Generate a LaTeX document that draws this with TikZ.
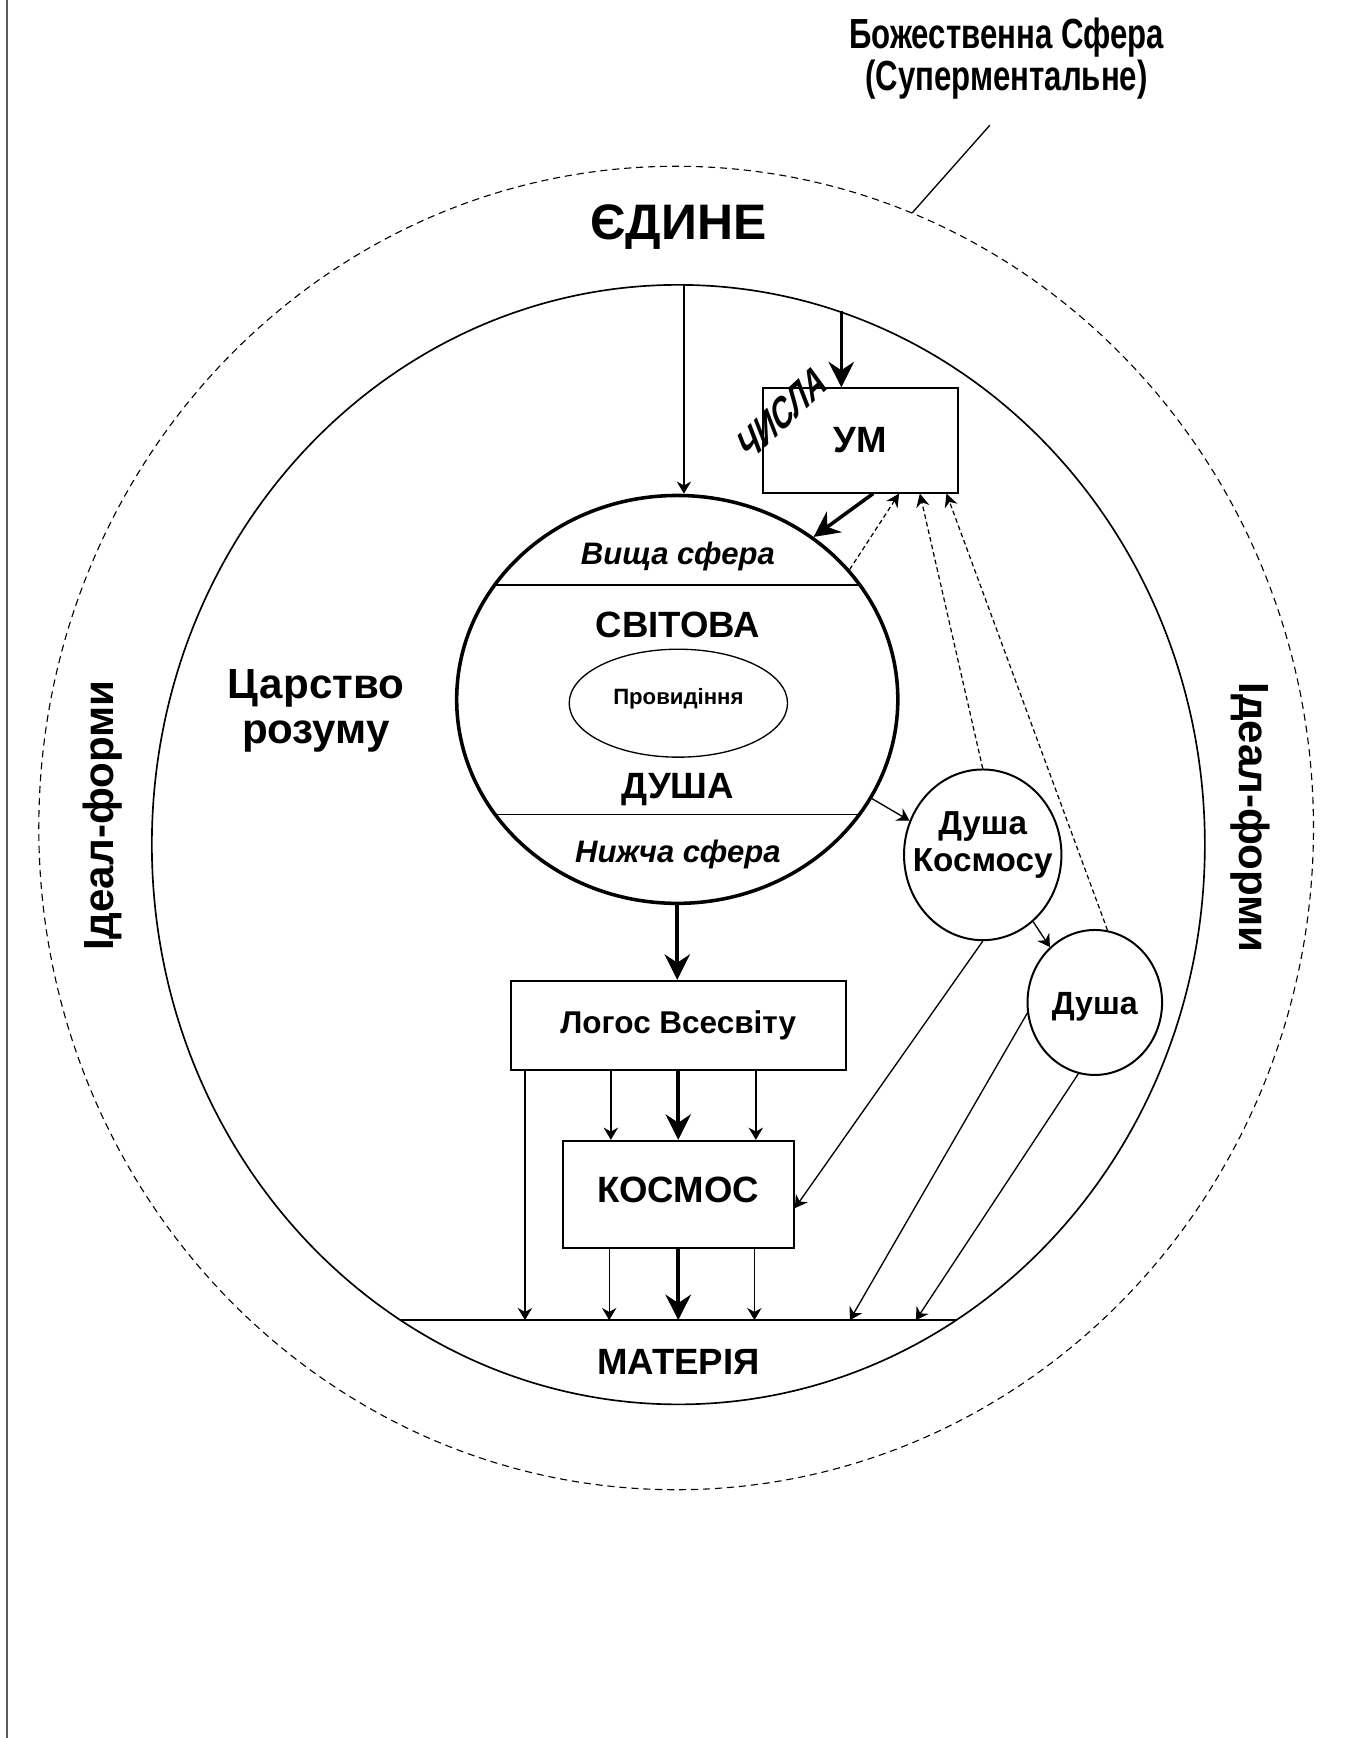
\documentclass[tikz,border=0pt]{standalone}
\usepackage{fontspec}
\setmainfont{Liberation Sans}
\newfontfamily\narrowfont[FakeStretch=0.74]{Liberation Sans}
\newfontfamily\chfont[FakeStretch=0.78]{Liberation Sans}
\usetikzlibrary{arrows.meta,shapes.geometric,calc}
\begin{document}
\begin{tikzpicture}[x=0.5pt,y=-0.5pt,
  fa/.style={font=\fontsize{#1pt}{#1pt}\selectfont\bfseries},
  fi/.style={font=\fontsize{#1pt}{#1pt}\selectfont\bfseries\itshape},
  fn/.style={font=\fontsize{#1pt}{#1pt}\selectfont\narrowfont\bfseries},
  fc/.style={font=\fontsize{#1pt}{#1pt}\selectfont\chfont\bfseries},
  lbl/.style={inner sep=0pt, anchor=base},
  thinarr/.style={line width=0.6pt, -{Stealth[length=5.5pt,width=6.5pt,inset=1.8pt]}},
  thickarr/.style={line width=1.6pt, -{Stealth[length=11.5pt,width=11.5pt,inset=3.8pt]}},
  dasharr/.style={line width=0.55pt, dash pattern=on 2.1pt off 1.4pt, -{Stealth[length=6pt,width=6pt,inset=2pt]}},
  oval/.style={draw, ellipse, inner sep=0pt},
  boxnode/.style={draw, rectangle, line width=0.9pt, inner sep=0pt},
]
\useasboundingbox (0,0) rectangle (1215,1568);
\fill[white] (0,0) rectangle (1215,1568);
\draw[line width=0.9pt, black!65] (6.3,0) -- (6.3,1568);

% spheres
\node[oval, line width=0.5pt, dash pattern=on 3.2pt off 2.2pt, minimum width=575pt, minimum height=597pt] (divine) at (610,747) {};
\node[oval, line width=0.75pt, minimum width=475pt, minimum height=505pt] (realm) at (612,762) {};
\node[oval, line width=1.6pt, minimum width=199pt, minimum height=184pt] (wsoul) at (611,631) {};
\node[oval, line width=0.6pt, minimum width=98.5pt, minimum height=48.7pt] (prov) at (612,634.4) {};

% labels outside
\node[lbl, fa=22.5] (edine) at (612,216) {ЄДИНЕ};
\node[lbl, fn=19] (bozh1) at (908,43.6) {Божественна Сфера};
\node[lbl, fn=19] (bozh2) at (908,81.6) {(Суперментальне)};
\coordinate (lead) at (893,113);
\draw[line width=0.6pt] (lead) -- (divine.69.2);

\node[lbl, fa=19] (carst) at (285,630) {Царство};
\node[lbl, fa=19] (rozum) at (285,671) {розуму};
\node[rotate=90, fa=19, inner sep=0pt] (idl) at (92.4,736) {Ідеал-форми};
\node[rotate=-90, fa=19, inner sep=0pt] (idr) at (1128,737.6) {Ідеал-форми};

% world soul contents
\draw[line width=0.6pt] (446.3,527.7) -- (775.7,527.7);
\draw[line width=0.6pt] (446.8,735) -- (775.2,735);
\node[lbl, fi=14] (vyshcha) at (611.6,509) {Вища сфера};
\node[lbl, fa=16.5] (svitova) at (611.6,575.5) {СВІТОВА};
\node[lbl, fa=10] (provt) at (612,636) {Провидіння};
\node[lbl, fa=16.5] (dusha) at (611.6,720) {ДУША};
\node[lbl, fi=14] (nyzhcha) at (611.6,778) {Нижча сфера};

% boxes
\node[boxnode, minimum width=87.7pt, minimum height=47pt] (um) at (776.2,397.35) {};
\node[lbl, fa=16.5] (umt) at (776.2,408) {УМ};
\node[rotate=43, xslant=0.4, fc=18, inner sep=0pt] (chysla) at (706,373) {ЧИСЛА};
\node[boxnode, minimum width=151.2pt, minimum height=40.15pt, fa=14.2] (logos) at (611.9,925) {Логос Всесвіту};
\node[boxnode, minimum width=104.3pt, minimum height=48.15pt] (kosmos) at (611.9,1077.35) {};
\node[lbl, fa=16.5] (kosmost) at (611.9,1085) {КОСМОС};

% souls
\node[oval, line width=0.9pt, minimum width=71pt, minimum height=77pt] (dk) at (886.6,771.2) {};
\node[lbl, fa=15] (dkt1) at (886.6,752.7) {Душа};
\node[lbl, fa=15] (dkt2) at (886.6,786) {Космосу};
\node[oval, line width=0.9pt, minimum width=60.7pt, minimum height=65.4pt] (d) at (987.7,904.4) {};
\node[lbl, fa=14.5] (dt) at (987.7,915) {Душа};

% matter
\coordinate (mL) at (361.4,1191);
\coordinate (mR) at (862.6,1191);
\draw[line width=0.75pt] (mL) -- (mR);
\node[lbl, fa=16.5] (materia) at (612,1239.6) {МАТЕРІЯ};
\coordinate (ma) at (766.7,1191);
\coordinate (mb) at (826.3,1191);

% connectors
\draw[thinarr] ([xshift=2.5pt]realm.north) -- ([xshift=2.5pt]realm.north |- wsoul.north);
\draw[thickarr] (realm.73.03) -- (realm.73.03 |- um.north);
\draw[thickarr] ([xshift=5.8pt]um.south) -- (wsoul.50.8);
\draw[dasharr] (wsoul.37.7) -- ([xshift=17.5pt]um.south);
\draw[dasharr] (dk.north) -- ([xshift=26.85pt]um.south);
\draw[dasharr] (d.80.8) -- ([xshift=38.85pt]um.south);
\draw[thinarr] (wsoul.-27.5) -- (dk.155.9);
\draw[thinarr] (dk.-53) -- (d.129.4);
\draw[thickarr] (wsoul.south) -- (wsoul.south |- logos.north);
\draw[thinarr] ([xshift=6.9pt]logos.south west) -- ([xshift=6.9pt]logos.south west |- mL);
\draw[thinarr] ([xshift=-30.4pt]logos.south) -- ([xshift=-30.4pt]logos.south |- kosmos.north);
\draw[thickarr] (logos.south) -- (logos.south |- kosmos.north);
\draw[thinarr] ([xshift=35pt]logos.south) -- ([xshift=35pt]logos.south |- kosmos.north);
\draw[thinarr] ([xshift=-31.15pt]kosmos.south) -- ([xshift=-31.15pt]kosmos.south |- mL);
\draw[thickarr] (kosmos.south) -- (kosmos.south |- mL);
\draw[thinarr] ([xshift=34.35pt]kosmos.south) -- ([xshift=34.35pt]kosmos.south |- mL);
\draw[thinarr] (dk.south) -- ([yshift=-6.3pt]kosmos.east);
\draw[thinarr] (d.189) -- (ma);
\draw[thinarr] (d.257.8) -- (mb);
\end{tikzpicture}
\end{document}
